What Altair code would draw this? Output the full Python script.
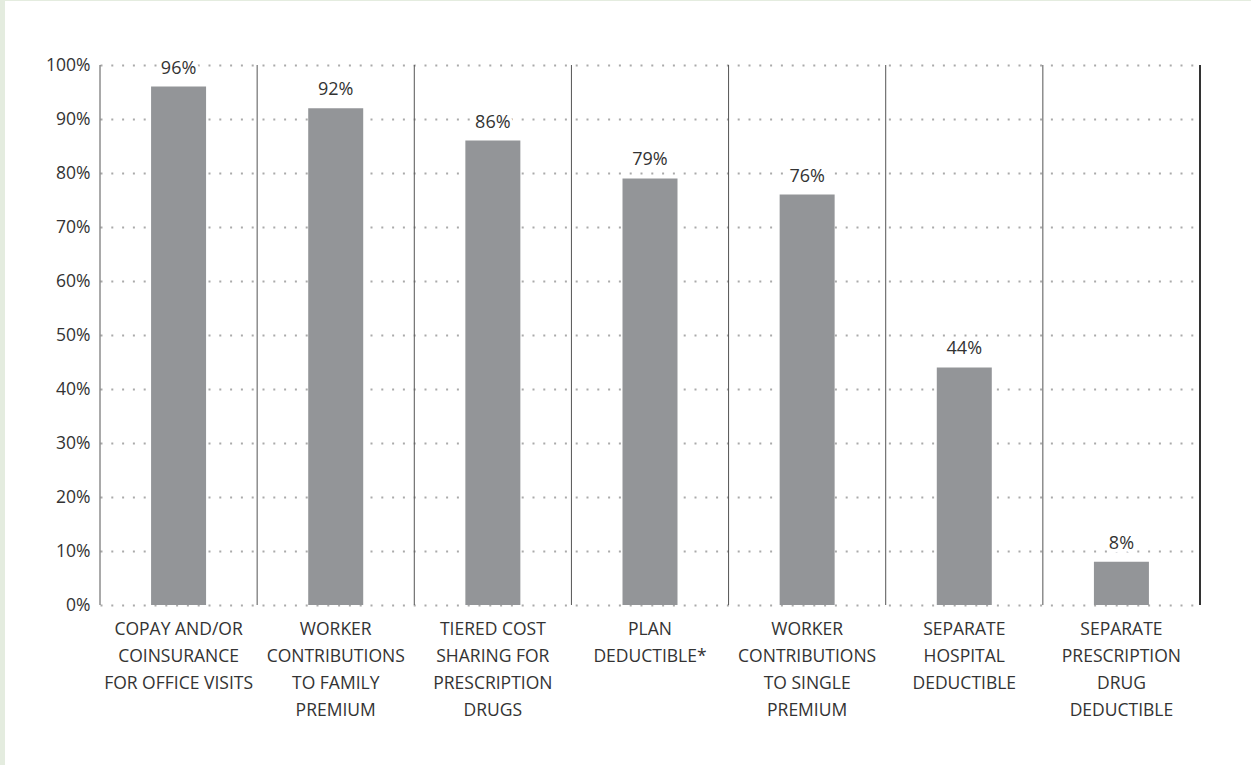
import altair as alt
import pandas as pd

categories = [
    "COPAY AND/OR|COINSURANCE|FOR OFFICE VISITS",
    "WORKER|CONTRIBUTIONS|TO FAMILY|PREMIUM",
    "TIERED COST|SHARING FOR|PRESCRIPTION|DRUGS",
    "PLAN|DEDUCTIBLE*",
    "WORKER|CONTRIBUTIONS|TO SINGLE|PREMIUM",
    "SEPARATE|HOSPITAL|DEDUCTIBLE",
    "SEPARATE|PRESCRIPTION|DRUG|DEDUCTIBLE",
]
values = [0.96, 0.92, 0.86, 0.79, 0.76, 0.44, 0.08]
labels = ["96%", "92%", "86%", "79%", "76%", "44%", "8%"]

df = pd.DataFrame({"cat": categories, "value": values, "label": labels})

FONT = "Open Sans"
TEXT = "#333333"
W, H = 1100, 540

xenc = alt.X("cat:N", sort=categories,
             scale=alt.Scale(paddingInner=0, paddingOuter=0),
             axis=alt.Axis(title=None, labelAngle=0, domain=False, ticks=False,
                           grid=False, labelPadding=15, labelFontSize=17.5,
                           labelLineHeight=27, labelColor=TEXT, labelFont=FONT,
                           labelExpr="split(datum.label, '|')", labelBaseline="top"))
yscale = alt.Scale(domain=[0, 1], nice=False)

base = alt.Chart(df)

bars = base.mark_bar(color="#939598", width=55).encode(
    x=xenc,
    y=alt.Y("value:Q", scale=yscale,
            axis=alt.Axis(title=None, format="%", values=[i / 10 for i in range(11)],
                          domain=False, ticks=False, labelPadding=10,
                          labelFontSize=17.5, labelColor=TEXT, labelFont=FONT,
                          grid=True, gridColor="#aaaaaa", gridWidth=2,
                          gridDash=[2, 8.8])),
)

text_bg = base.mark_text(dy=-13, fontSize=18, font=FONT, color="white",
                         stroke="white", strokeWidth=7, baseline="alphabetic").encode(
    x=alt.X("cat:N", sort=categories),
    y=alt.Y("value:Q", scale=yscale),
    text="label:N",
)
text = base.mark_text(dy=-13, fontSize=18, font=FONT, color=TEXT,
                      baseline="alphabetic").encode(
    x=alt.X("cat:N", sort=categories),
    y=alt.Y("value:Q", scale=yscale),
    text="label:N",
)

seps = base.mark_rule(color="#555555", strokeWidth=1).encode(
    x=alt.X("cat:N", sort=categories, bandPosition=0),
    y=alt.value(0), y2=alt.value(H),
)
right = base.mark_rule(color="#333333", strokeWidth=1).encode(
    x=alt.value(W), y=alt.value(0), y2=alt.value(H),
)

green = "#e4ecdf"
left_strip = base.mark_rect(color=green).encode(
    x=alt.value(-100), x2=alt.value(-95), y=alt.value(-65), y2=alt.value(700))
top_strip = base.mark_rect(color=green).encode(
    x=alt.value(-100), x2=alt.value(1151), y=alt.value(-65), y2=alt.value(-64))

chart = alt.layer(bars, seps, right, text_bg, text, left_strip, top_strip).properties(
    width=W, height=H,
    autosize=alt.AutoSizeParams(type="none"),
    padding={"left": 100, "top": 65, "right": 51, "bottom": 160},
    background="white",
).configure_view(stroke=None)

chart.save("out.html", embed_options={"renderer": "svg", "actions": False})
